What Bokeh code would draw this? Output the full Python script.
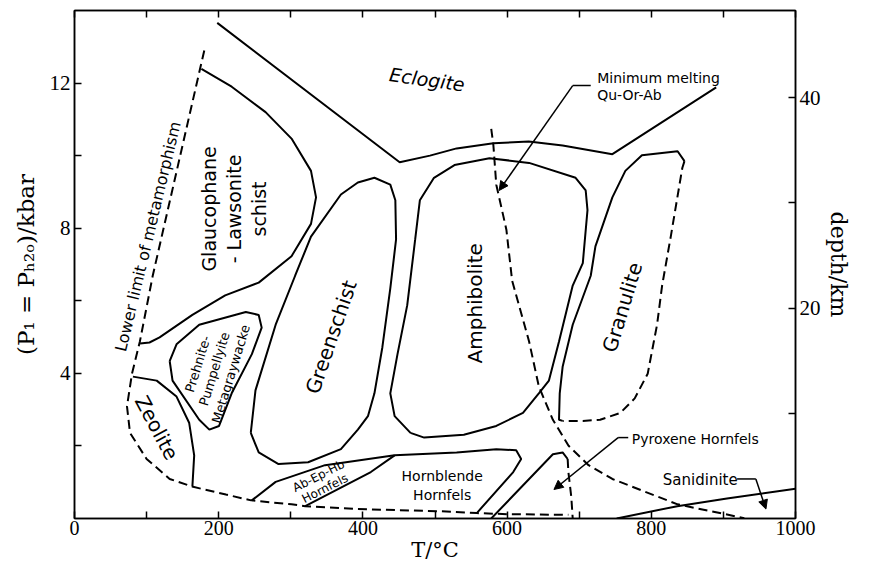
from bokeh.plotting import figure
from bokeh.models import LinearAxis, Range1d, FixedTicker, Arrow, NormalHead
from bokeh.core.properties import value
from bokeh.embed import file_html
from bokeh.resources import INLINE

# ---------------- data (T in degC, P in kbar) ----------------
eclogite_T = [198, 451, 493, 530, 581, 630, 677, 746, 890]
eclogite_P = [13.66, 9.82, 10.0, 10.2, 10.34, 10.39, 10.28, 10.04, 11.88]

lower_limit_T = [180, 108.5, 90.7, 79.7, 72.8, 77, 100, 132, 163, 210, 245, 301, 320, 393, 507, 558, 600, 685]
lower_limit_P = [12.9, 6.69, 4.88, 3.99, 3.09, 2.36, 1.64, 1.09, 0.88, 0.66, 0.5, 0.39, 0.34, 0.26, 0.2, 0.15, 0.12, 0.1]

glauco_T = [176, 218, 265, 301, 328, 335, 328, 301, 255.5, 209, 163.5, 118, 104, 91]
glauco_P = [12.39, 11.9, 11.2, 10.47, 9.58, 8.85, 8.12, 7.23, 6.5, 6.15, 5.61, 4.99, 4.85, 4.82]

greenschist_T = [244.5, 251, 279, 306, 328, 369.5, 393, 416, 438, 445, 446, 438, 427, 416, 407, 393, 369.5, 324, 283, 255.5, 244.5]
greenschist_P = [2.36, 3.53, 5.34, 6.69, 7.77, 8.93, 9.26, 9.39, 9.2, 8.77, 7.69, 6.34, 4.72, 3.45, 2.82, 2.45, 1.91, 1.55, 1.5, 1.82, 2.36]

amphibolite_T = [466, 444, 438, 448, 461.5, 472.5, 479, 498.6, 527, 575.5, 630.5, 695, 709, 711.5, 705, 691, 672, 658, 644, 622, 585, 540, 485, 466]
amphibolite_P = [2.36, 2.82, 3.45, 4.53, 5.88, 7.69, 8.77, 9.39, 9.74, 9.93, 9.8, 9.39, 9.04, 8.5, 7.04, 6.42, 4.88, 3.8, 3.45, 2.91, 2.55, 2.31, 2.23, 2.36]

granulite_solid_T = [677, 672, 673, 677, 691, 716, 722.5, 746, 764, 787, 836.5, 846]
granulite_solid_P = [2.69, 2.72, 3.45, 4.18, 5.34, 6.69, 7.5, 8.85, 9.58, 10.01, 10.12, 9.85]
granulite_dash_T = [846, 843, 827, 815, 808, 795, 777, 757, 729, 705, 677]
granulite_dash_P = [9.85, 9.66, 7.77, 6.42, 5.34, 3.99, 3.31, 2.91, 2.72, 2.69, 2.69]

zeolite_T = [81, 114, 141.5, 159, 166, 163.5]
zeolite_P = [3.91, 3.8, 3.36, 2.64, 1.74, 0.88]

prehnite_T = [132, 141.5, 173, 237.6, 255.5, 259.6, 246, 218, 200.5, 187, 173, 136, 132]
prehnite_P = [4.34, 4.8, 5.34, 5.69, 5.61, 5.26, 4.53, 3.45, 2.55, 2.45, 2.72, 3.8, 4.34]

hornfels_upper_T = [246, 279, 347.5, 444, 530, 585, 612.6, 619.5, 608.5, 558]
hornfels_upper_P = [0.5, 1.01, 1.47, 1.74, 1.82, 1.91, 1.88, 1.64, 1.28, 0.15]
abep_lower_T = [320, 411, 444]
abep_lower_P = [0.34, 1.28, 1.74]

pyroxene_solid_T = [578, 663.5, 677, 684]
pyroxene_solid_P = [0.0, 1.77, 1.82, 1.64]
pyroxene_dash_T = [684, 685, 689, 691]
pyroxene_dash_P = [1.64, 1.28, 0.6, 0.0]

min_melt_T = [578, 581, 585, 599, 607, 630.5, 644, 663.5, 685, 713, 746, 791, 836.5, 883, 929]
min_melt_P = [10.74, 10.28, 9.2, 7.96, 6.55, 4.88, 3.64, 2.72, 2.01, 1.47, 1.09, 0.74, 0.39, 0.2, 0.01]

sanidinite_T = [752, 836, 905, 1000]
sanidinite_P = [0.0, 0.34, 0.55, 0.82]

# leader lines (text -> arrow tip)
melt_leader_T = [716, 691, 589]
melt_leader_P = [11.93, 11.93, 9.04]
pyrox_leader_T = [768, 754, 665]
pyrox_leader_P = [2.23, 2.23, 0.8]
sanid_leader_T = [919, 945, 959]
sanid_leader_P = [1.09, 1.09, 0.26]

# axes
x_ticks = [0, 100, 200, 300, 400, 500, 600, 700, 800, 900, 1000]
x_tick_labels = ["0", "", "200", "", "400", "", "600", "", "800", "", "1000"]
p_ticks = [2, 4, 6, 8, 10, 12]
p_tick_labels = ["", "4", "", "8", "", "12"]
depth_ticks = [10, 20, 30, 40]
depth_tick_labels = ["", "20", "", "40"]
KM_PER_KBAR = 3.45
P_MAX = 14

# region labels: (text, T, P, angle deg, size, style, line height)
labels = [
    ("Eclogite", 489, 12.1, -8, "19px", "italic", 1.15),
    ("Glaucophane\n- Lawsonite\nschist", 221, 8.53, 90, "19px", "normal", 1.15),
    ("Lower limit of metamorphism", 102, 7.77, 76.5, "16px", "normal", 1.15),
    ("Prehnite-\nPumpellyite\nMetagraywacke", 194, 4.12, 73, "13px", "normal", 1.15),
    ("Zeolite", 114, 2.5, -62, "20px", "normal", 1.15),
    ("Greenschist", 356, 5.0, 71, "20px", "normal", 1.15),
    ("Amphibolite", 555, 5.93, 90, "20px", "normal", 1.15),
    ("Granulite", 760, 5.82, 73, "20px", "normal", 1.15),
    ("Ab-Ep-Hb\nHornfels", 343, 1.0, 27, "12px", "normal", 1.0),
    ("Hornblende\nHornfels", 510, 0.91, 0, "14px", "normal", 1.15),
]
left_labels = [
    ("Minimum melting", 725, 12.15, "14px"),
    ("Qu-Or-Ab", 725, 11.66, "14px"),
    ("Pyroxene Hornfels", 773, 2.2, "14px"),
    ("Sanidinite", 816, 1.07, "15px"),
]

# ---------------- figure ----------------
SANS = value("DejaVu Sans")
SERIF = "Liberation Serif"

p = figure(width=853, height=564, x_range=Range1d(0, 1000), y_range=Range1d(0, P_MAX),
           output_backend="svg", toolbar_location=None,
           min_border_left=74, min_border_right=50, min_border_top=10, min_border_bottom=40)
p.xgrid.visible = False
p.ygrid.visible = False
p.outline_line_color = "black"
p.outline_line_width = 1.5
p.background_fill_color = "white"

def style_axis(ax, ticks, labs):
    ax.ticker = FixedTicker(ticks=ticks)
    ax.major_label_overrides = {t: l for t, l in zip(ticks, labs)}
    ax.minor_tick_line_color = None
    ax.major_tick_in = 7
    ax.major_tick_out = 0
    ax.major_tick_line_width = 1.5
    ax.axis_line_width = 1.5
    ax.major_label_text_font = SERIF
    ax.major_label_text_font_size = "21px"
    ax.major_label_text_color = "black"
    ax.axis_label_text_font = "DejaVu Serif"
    ax.axis_label_text_font_size = "22px"
    ax.axis_label_text_font_style = "normal"
    ax.axis_label_text_color = "black"

style_axis(p.xaxis[0], x_ticks, x_tick_labels)
p.xaxis[0].axis_label = "T/°C"
p.xaxis[0].major_label_standoff = 2
p.xaxis[0].axis_label_standoff = 0
p.xaxis[0].major_label_text_font_size = "20px"
p.xaxis[0].axis_label_text_font_size = "21px"

style_axis(p.yaxis[0], p_ticks, p_tick_labels)
p.yaxis[0].axis_label = "(P₁ = Pₕ₂ₒ)/kbar"
p.yaxis[0].axis_label_text_font_size = "23px"
p.yaxis[0].major_label_standoff = 4
p.yaxis[0].axis_label_standoff = 8

p.extra_y_ranges = {"depth": Range1d(0, P_MAX * KM_PER_KBAR)}
rax = LinearAxis(y_range_name="depth")
style_axis(rax, depth_ticks, depth_tick_labels)
rax.axis_label = "depth/km"
rax.major_label_standoff = 4
rax.axis_label_standoff = 2
p.add_layout(rax, "right")

tax = LinearAxis()
style_axis(tax, x_ticks, [""] * len(x_ticks))
tax.major_label_text_font_size = "0px"
tax.major_label_standoff = 0
p.add_layout(tax, "above")

LW = 2
DASH = "9 5"
p.line(eclogite_T, eclogite_P, line_color="black", line_width=LW)
p.line(lower_limit_T, lower_limit_P, line_color="black", line_width=LW, line_dash=DASH)
p.line(glauco_T, glauco_P, line_color="black", line_width=LW)
p.line(greenschist_T, greenschist_P, line_color="black", line_width=LW)
p.line(amphibolite_T, amphibolite_P, line_color="black", line_width=LW)
p.line(granulite_solid_T, granulite_solid_P, line_color="black", line_width=LW)
p.line(granulite_dash_T, granulite_dash_P, line_color="black", line_width=LW, line_dash=DASH)
p.line(zeolite_T, zeolite_P, line_color="black", line_width=LW)
p.line(prehnite_T, prehnite_P, line_color="black", line_width=LW)
p.line(hornfels_upper_T, hornfels_upper_P, line_color="black", line_width=LW)
p.line(abep_lower_T, abep_lower_P, line_color="black", line_width=LW)
p.line(pyroxene_solid_T, pyroxene_solid_P, line_color="black", line_width=LW)
p.line(pyroxene_dash_T, pyroxene_dash_P, line_color="black", line_width=LW, line_dash=DASH)
p.line(min_melt_T, min_melt_P, line_color="black", line_width=LW, line_dash=DASH)
p.line(sanidinite_T, sanidinite_P, line_color="black", line_width=LW)

for lt, lp in [(melt_leader_T, melt_leader_P), (pyrox_leader_T, pyrox_leader_P), (sanid_leader_T, sanid_leader_P)]:
    p.line(lt[:-1], lp[:-1], line_color="black", line_width=1.5)
    p.add_layout(Arrow(end=NormalHead(size=9, fill_color="black", line_color="black"),
                       x_start=lt[-2], y_start=lp[-2], x_end=lt[-1], y_end=lp[-1],
                       line_color="black", line_width=1.5))

for txt, tx, ty, ang, size, style, lh in labels:
    p.text(x=[tx], y=[ty], text=[txt], angle=ang, angle_units="deg",
           text_font=SANS, text_font_size=size, text_font_style=style,
           text_align="center", text_baseline="middle", text_color="black",
           text_line_height=lh)

for txt, tx, ty, size in left_labels:
    p.text(x=[tx], y=[ty], text=[txt], text_font=SANS, text_font_size=size,
           text_align="left", text_baseline="middle", text_color="black")

open("out.html", "w").write(file_html(p, INLINE))
